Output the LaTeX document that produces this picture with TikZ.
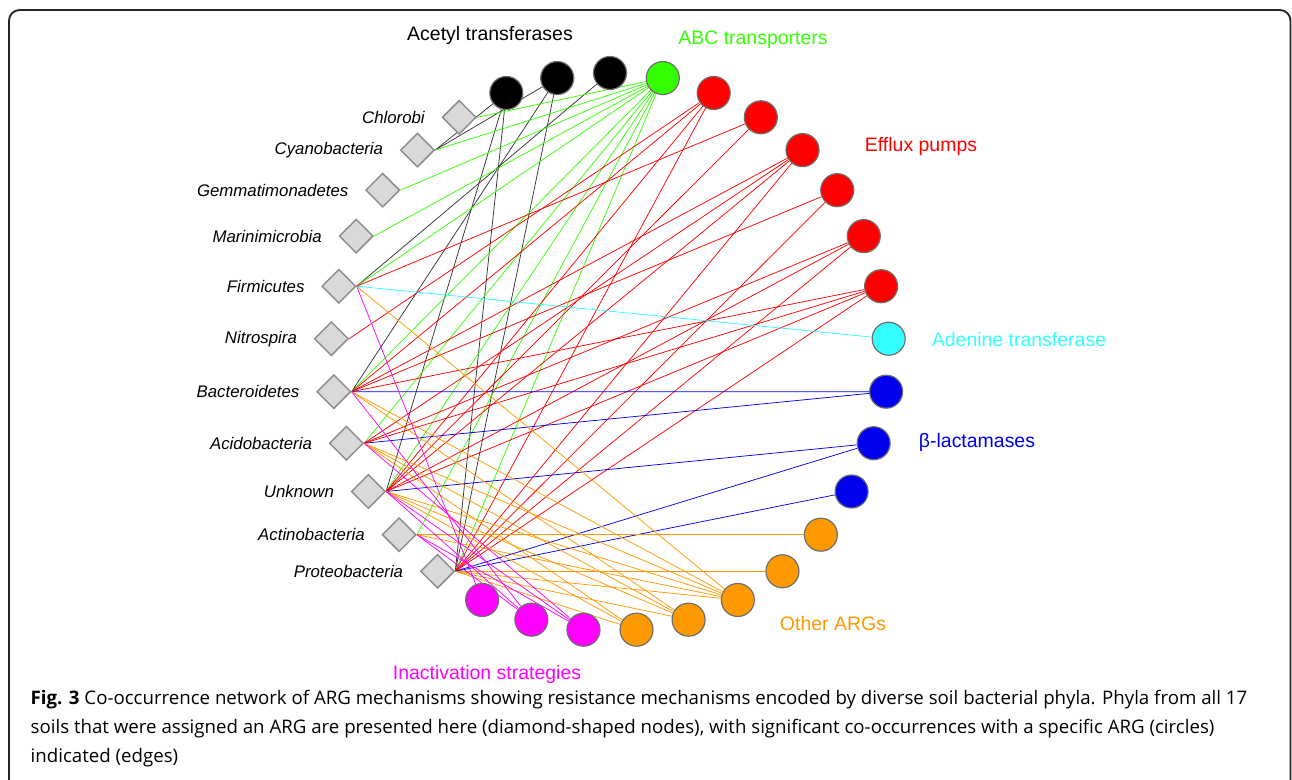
\documentclass[tikz,border=0pt]{standalone}
\usepackage{fontspec}
\setmainfont{Liberation Sans}
\newfontfamily\capfont{Open Sans}
\usepackage{tikz}
\usetikzlibrary{shapes.geometric,positioning,backgrounds}
\definecolor{abcgreen}{RGB}{51,255,0}
\definecolor{effred}{RGB}{255,0,0}
\definecolor{adecyan}{RGB}{51,255,255}
\definecolor{lacblue}{RGB}{0,0,238}
\definecolor{othorange}{RGB}{255,153,0}
\definecolor{inamag}{RGB}{255,0,255}
\tikzset{
    phylum/.style={
    diamond,draw=gray!90,fill=gray!30,line width=1.1pt,minimum size=25.5pt,inner sep=0pt,
    label={[font=\itshape\fontsize{12.6}{14}\selectfont,label distance=9pt]left:#1}
    },
    arg/.style={
    circle,draw=black!57,fill=#1,line width=0.9pt,minimum size=24.75pt,inner sep=0pt
    },
    link/.style={draw=#1,line width=0.55pt},
    group/.style={font=\fontsize{14.6}{17}\selectfont,text=#1},
}

\begin{document}
\begin{tikzpicture}[x=0.75pt,y=0.75pt]
\def \n {33}
\def \radius {279}
\useasboundingbox (-610,-428) rectangle (682,352);
\draw[black!85,line width=1.4pt,rounded corners=8] (-601,-430) -- (-601,342) -- (680.5,342) -- (680.5,-430);

  % phyla (diamonds)
  \node[phylum=Chlorobi] (chlorobi) at ({90 + 360/\n * 3}:\radius) {};
  \node[phylum=Cyanobacteria] (cyano) at ({90 + 360/\n * 4}:\radius) {};
  \node[phylum=Gemmatimonadetes] (gemma) at ({90 + 360/\n * 5}:\radius) {};
  \node[phylum=Marinimicrobia] (marini) at ({90 + 360/\n * 6}:\radius) {};
  \node[phylum=Firmicutes] (firmi) at ({90 + 360/\n * 7}:\radius) {};
  \node[phylum=Nitrospira] (nitro) at ({90 + 360/\n * 8}:\radius) {};
  \node[phylum=Bacteroidetes] (bactero) at ({90 + 360/\n * 9}:\radius) {};
  \node[phylum=Acidobacteria] (acido) at ({90 + 360/\n * 10}:\radius) {};
  \node[phylum=Unknown] (unknown) at ({90 + 360/\n * 11}:\radius) {};
  \node[phylum=Actinobacteria] (actino) at ({90 + 360/\n * 12}:\radius) {};
  \node[phylum=Proteobacteria] (proteo) at ({90 + 360/\n * 13}:\radius) {};

  % ARGs (circles)
  \node[arg=black] (acet3) at ({90 + 360/\n * 0}:\radius) {};
  \node[arg=black] (acet2) at ({90 + 360/\n * 1}:\radius) {};
  \node[arg=black] (acet1) at ({90 + 360/\n * 2}:\radius) {};
  \node[arg=inamag] (ina1) at ({90 + 360/\n * 14}:\radius) {};
  \node[arg=inamag] (ina2) at ({90 + 360/\n * 15}:\radius) {};
  \node[arg=inamag] (ina3) at ({90 + 360/\n * 16}:\radius) {};
  \node[arg=othorange] (oth5) at ({90 + 360/\n * 17}:\radius) {};
  \node[arg=othorange] (oth4) at ({90 + 360/\n * 18}:\radius) {};
  \node[arg=othorange] (oth3) at ({90 + 360/\n * 19}:\radius) {};
  \node[arg=othorange] (oth2) at ({90 + 360/\n * 20}:\radius) {};
  \node[arg=othorange] (oth1) at ({90 + 360/\n * 21}:\radius) {};
  \node[arg=lacblue] (lac3) at ({90 + 360/\n * 22}:\radius) {};
  \node[arg=lacblue] (lac2) at ({90 + 360/\n * 23}:\radius) {};
  \node[arg=lacblue] (lac1) at ({90 + 360/\n * 24}:\radius) {};
  \node[arg=adecyan] (ade) at ({90 + 360/\n * 25}:\radius) {};
  \node[arg=effred] (eff6) at ({90 + 360/\n * 26}:\radius) {};
  \node[arg=effred] (eff5) at ({90 + 360/\n * 27}:\radius) {};
  \node[arg=effred] (eff4) at ({90 + 360/\n * 28}:\radius) {};
  \node[arg=effred] (eff3) at ({90 + 360/\n * 29}:\radius) {};
  \node[arg=effred] (eff2) at ({90 + 360/\n * 30}:\radius) {};
  \node[arg=effred] (eff1) at ({90 + 360/\n * 31}:\radius) {};
  \node[arg=abcgreen] (abc) at ({90 + 360/\n * 32}:\radius) {};

  % group names
  \node[group=black] (acetname) at (-120,317) {Acetyl transferases};
  \node[group=abcgreen] (abcname) at (143,312) {ABC transporters};
  \node[group=effred] (effname) at (311,206) {Efflux pumps};
  \node[group=adecyan] (adename) at (409,12) {Adenine transferase};
  \node[group=lacblue] (lacname) at (367,-90) {β-lactamases};
  \node[group=othorange] (othname) at (223,-272) {Other ARGs};
  \node[group=inamag] (inaname) at (-123,-322) {Inactivation strategies};

  \begin{pgfonlayer}{background}
  % acetyl transferases
  \foreach \p/\a in {cyano/acet1,cyano/acet2,firmi/acet3,bactero/acet2,unknown/acet1,proteo/acet1,proteo/acet2}
    \path[link=black!80] (\p.east) -- (\a);
  % ABC transporters
  \foreach \p in {chlorobi,cyano,gemma,marini,firmi,bactero,acido,unknown,actino,proteo}
    \path[link=abcgreen] (\p.east) -- (abc);
  % efflux pumps
  \foreach \p/\a in {nitro/eff1,bactero/eff1,unknown/eff1,proteo/eff1,firmi/eff2,unknown/eff2,bactero/eff3,acido/eff3,unknown/eff3,proteo/eff3,bactero/eff4,proteo/eff4,acido/eff5,unknown/eff5,proteo/eff5,bactero/eff6,acido/eff6,unknown/eff6,proteo/eff6}
    \path[link=effred] (\p.east) -- (\a);
  \path[link=adecyan] (firmi.east) -- (ade);
  % beta-lactamases
  \foreach \p/\a in {bactero/lac1,acido/lac1,unknown/lac2,proteo/lac2,proteo/lac3}
    \path[link=lacblue] (\p.east) -- (\a);
  % other ARGs
  \foreach \p/\a in {actino/oth1,proteo/oth2,firmi/oth3,bactero/oth3,bactero/oth4,acido/oth3,acido/oth4,acido/oth5,unknown/oth3,unknown/oth4,unknown/oth5,actino/oth3,proteo/oth3,proteo/oth4,proteo/oth5}
    \path[link=othorange] (\p.east) -- (\a);
  % inactivation strategies
  \foreach \p/\a in {firmi/ina1,bactero/ina2,acido/ina3,unknown/ina2,unknown/ina3,actino/ina2,actino/ina3}
    \path[link=inamag] (\p.east) -- (\a);
  \end{pgfonlayer}

  \node[anchor=west,align=left,font=\capfont\fontsize{14}{21.75}\selectfont] (caption) at (-584,-377)
    {\textbf{Fig. 3} Co-occurrence network of ARG mechanisms showing resistance mechanisms encoded by diverse soil bacterial phyla. Phyla from all 17\\
     soils that were assigned an ARG are presented here (diamond-shaped nodes), with significant co-occurrences with a specific ARG (circles)\\
     indicated (edges)};
\end{tikzpicture}
\end{document}
